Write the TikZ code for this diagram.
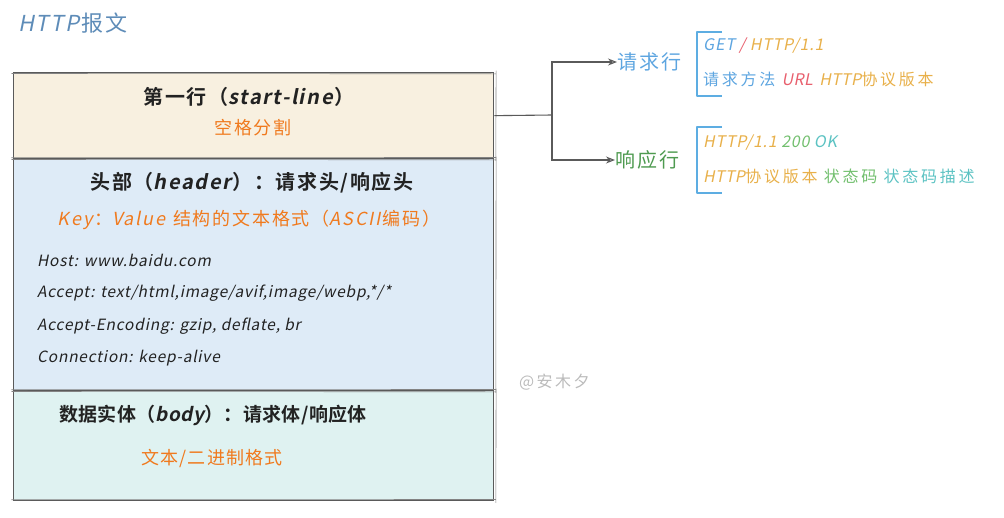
\documentclass[tikz,border=0pt]{standalone}
\usepackage{fontspec}
\setmainfont{Noto Sans CJK SC}[ItalicFont=Noto Sans CJK SC, ItalicFeatures={FakeSlant=0.2}, BoldFont=Noto Sans CJK SC Bold, BoldItalicFont=Noto Sans CJK SC Bold, BoldItalicFeatures={FakeSlant=0.2}]
\usetikzlibrary{arrows.meta}
\newcommand{\lsp}[1]{\addfontfeature{LetterSpace=#1}}
\newcommand{\lat}[1]{\textit{\lsp{2}#1}}
\definecolor{ttlblue}{HTML}{5E8CB8}
\definecolor{orng}{HTML}{F07A1E}
\definecolor{dark}{HTML}{222222}
\definecolor{edge}{HTML}{5A5A5A}
\definecolor{fillA}{HTML}{F8F0E0}
\definecolor{fillB}{HTML}{DEEBF7}
\definecolor{fillC}{HTML}{DFF2F1}
\definecolor{reqblue}{HTML}{5DA5E0}
\definecolor{respgreen}{HTML}{4E9A50}
\definecolor{brk}{HTML}{5DADE2}
\definecolor{yel}{HTML}{E8B04A}
\definecolor{rd}{HTML}{E8606E}
\definecolor{grn}{HTML}{72BF6E}
\definecolor{teal}{HTML}{5BC2C2}
\definecolor{wm}{HTML}{BBBBBB}
\tikzset{
  part/.style={draw=edge, line width=1.3pt, rectangle, minimum width=480pt, inner sep=0pt},
  sketch/.style={draw=edge!75, line width=0.6pt},
  boldtxt/.style={font=\fontsize{20}{24}\selectfont\bfseries\lsp{8}, text=dark, inner sep=0pt},
  subtxt/.style={font=\fontsize{18}{21}\selectfont\lsp{10}, text=orng, inner sep=0pt},
  hdrtxt/.style={font=\fontsize{15.5}{18}\selectfont\itshape\lsp{5}, text=dark, anchor=west, inner sep=0pt},
  linelbl/.style={font=\fontsize{20}{24}\selectfont\lsp{12}, inner sep=0pt, anchor=west},
  exttxt/.style={font=\fontsize{16}{19}\selectfont\lsp{17}, inner sep=0pt, anchor=west},
  extlat/.style={font=\fontsize{16}{19}\selectfont\itshape\lsp{5}, inner sep=0pt, anchor=west},
  bracket/.style={draw=brk, line width=2.4pt, line join=round},
  conn/.style={draw=edge, line width=1.1pt},
  arr/.style={conn, -{Stealth[open, length=9pt, width=7pt]}}
}
\begin{document}
\begin{tikzpicture}[x=1pt, y=-1pt]
\useasboundingbox (0,0) rectangle (1004,517);
% title
\node[font=\fontsize{22}{26}\selectfont\lsp{8}, text=ttlblue, anchor=west, inner sep=0pt] (title) at (18,23) {\textit{HTTP}报文};
% boxes
\node[part, fill=fillA, minimum height=86pt, anchor=north west] (box1) at (13,72) {};
\node[part, fill=fillB, minimum height=232pt, anchor=north west] (box2) at (13,158) {};
\node[part, fill=fillC, minimum height=110pt, anchor=north west] (box3) at (13,390) {};
\foreach \b in {box1,box2,box3}{
  \draw[sketch] ([shift={(-1.5,1.5)}]\b.north west) -- ([shift={(1.5,1.8)}]\b.north east)
                ([shift={(1.8,-1.5)}]\b.north east) -- ([shift={(1.5,1.5)}]\b.south east)
                ([shift={(-1.6,-1.6)}]\b.south west) -- ([shift={(1.5,-1.8)}]\b.south east);
}
% box1 texts
\node[boldtxt] (t1) at (249,97) {第一行（\textit{start-line}）};
\node[subtxt] (s1) at (253,128) {空格分割};
% box2 texts
\node[boldtxt] (t2) at (252,183) {头部（\textit{header}）：请求头/响应头};
\node[subtxt] (s2) at (249,220) {\textit{Key}：\textit{Value} 结构的文本格式（\textit{ASCII}编码）};
\node[hdrtxt] (h1) at (37,260) {Host: www.baidu.com};
\node[hdrtxt] (h2) at (37,293) {Accept: text/html,image/avif,image/webp,*/*};
\node[hdrtxt] (h3) at (37,326) {Accept-Encoding: gzip, deflate, br};
\node[hdrtxt] (h4) at (37,358) {Connection: keep-alive};
% box3 texts
\node[boldtxt, font=\fontsize{19}{22}\selectfont\bfseries\lsp{2}] (t3) at (213,415) {数据实体（\textit{body}）：请求体/响应体};
\node[subtxt, font=\fontsize{18}{21}\selectfont\lsp{6}] (s3) at (212,458) {文本/二进制格式};
% watermark
\node[font=\fontsize{16}{19}\selectfont\lsp{15}, text=wm, anchor=west, inner sep=0pt] (wmk) at (519,382) {@安木夕};
% right side
\node[linelbl, text=reqblue] (req) at (617,62) {请求行};
\node[linelbl, text=respgreen] (resp) at (615,160) {响应行};
\coordinate (fork) at (552,115);
\draw[conn] (box1.east) -- (fork);
\draw[arr] (fork) |- (req.west);
\draw[arr] (fork) |- (resp.west);
% brackets
\draw[bracket] (722,32) -- (697,32) -- (697,96) -- (722,96);
\draw[bracket] (722,127) -- (697,127) -- (697,193) -- (722,193);
% request line details
\node[extlat] (r1) at (703,46) {\textcolor{reqblue}{GET} \textcolor{rd}{/} \textcolor{yel}{HTTP/1.1}};
\node[exttxt] (r2) at (703,79) {\textcolor{reqblue}{请求方法} \textcolor{rd}{\lat{URL}} \textcolor{yel}{\lat{HTTP}协议版本}};
\node[extlat] (p1) at (703,143) {\textcolor{yel}{HTTP/1.1} \textcolor{grn}{200} \textcolor{teal}{OK}};
\node[exttxt] (p2) at (703,176) {\textcolor{yel}{\lat{HTTP}协议版本} \textcolor{grn}{状态码} \textcolor{teal}{状态码描述}};
\end{tikzpicture}
\end{document}
